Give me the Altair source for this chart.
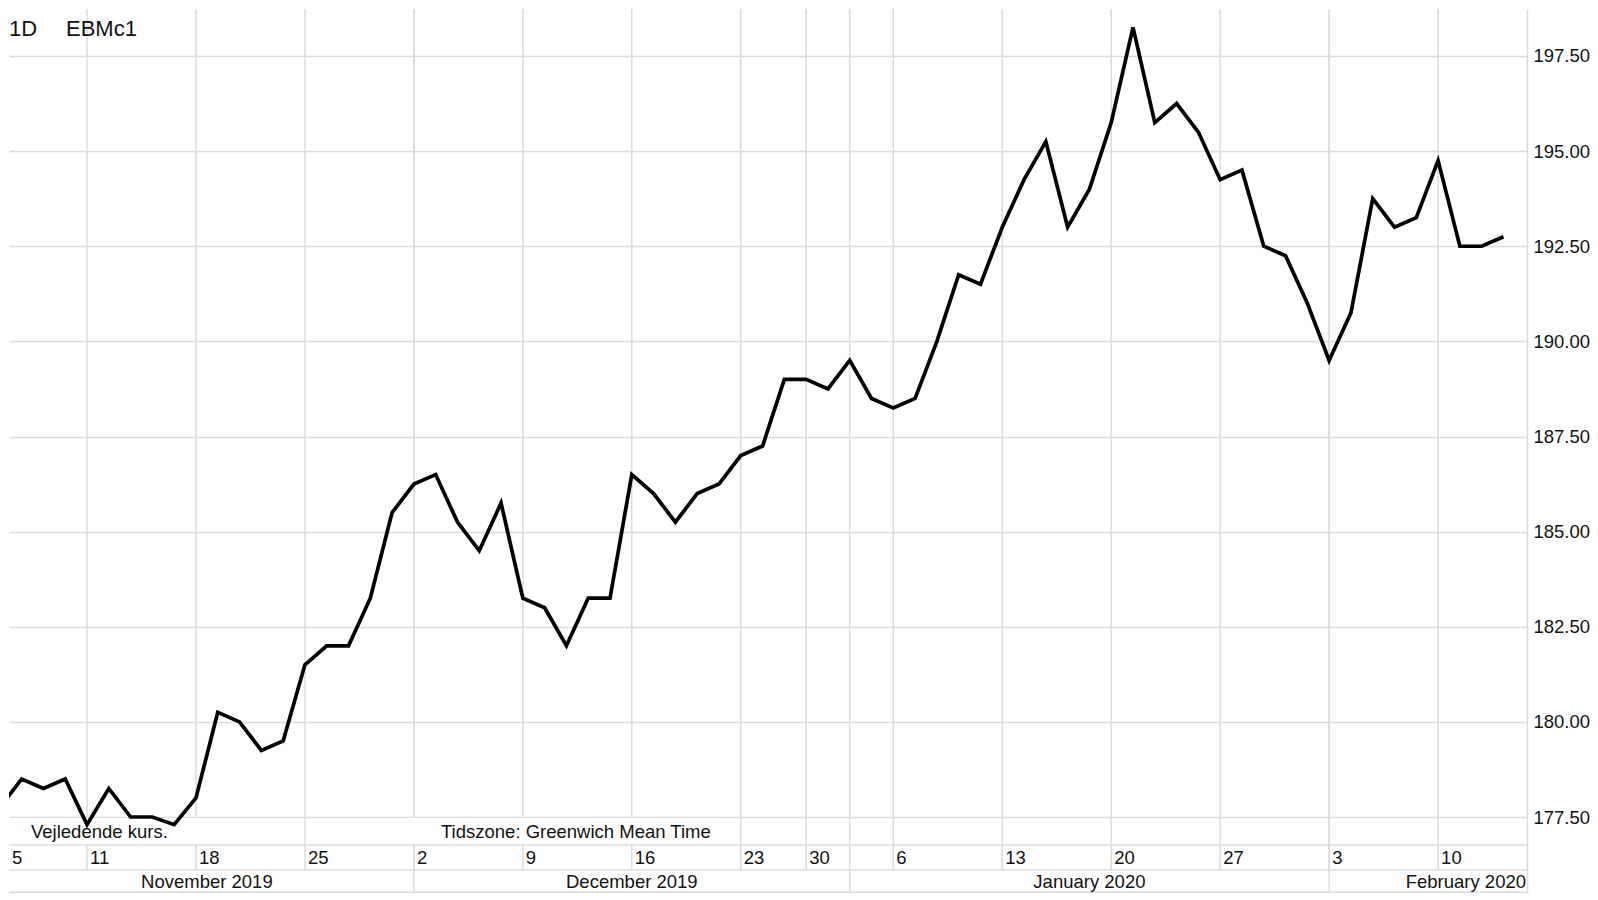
import altair as alt
import pandas as pd

# ---------------- data ----------------
dates = [
    "2019-11-05", "2019-11-06", "2019-11-07", "2019-11-08",
    "2019-11-11", "2019-11-12", "2019-11-13", "2019-11-14", "2019-11-15",
    "2019-11-18", "2019-11-19", "2019-11-20", "2019-11-21", "2019-11-22",
    "2019-11-25", "2019-11-26", "2019-11-27", "2019-11-28", "2019-11-29",
    "2019-12-02", "2019-12-03", "2019-12-04", "2019-12-05", "2019-12-06",
    "2019-12-09", "2019-12-10", "2019-12-11", "2019-12-12", "2019-12-13",
    "2019-12-16", "2019-12-17", "2019-12-18", "2019-12-19", "2019-12-20",
    "2019-12-23", "2019-12-24", "2019-12-27",
    "2019-12-30", "2019-12-31", "2020-01-02", "2020-01-03",
    "2020-01-06", "2020-01-07", "2020-01-08", "2020-01-09", "2020-01-10",
    "2020-01-13", "2020-01-14", "2020-01-15", "2020-01-16", "2020-01-17",
    "2020-01-20", "2020-01-21", "2020-01-22", "2020-01-23", "2020-01-24",
    "2020-01-27", "2020-01-28", "2020-01-29", "2020-01-30", "2020-01-31",
    "2020-02-03", "2020-02-04", "2020-02-05", "2020-02-06", "2020-02-07",
    "2020-02-10", "2020-02-11", "2020-02-12", "2020-02-13",
]
prices = [
    177.75, 178.5, 178.25, 178.5,
    177.3, 178.25, 177.5, 177.5, 177.3,
    178.0, 180.25, 180.0, 179.25, 179.5,
    181.5, 182.0, 182.0, 183.25, 185.5,
    186.25, 186.5, 185.25, 184.5, 185.75,
    183.25, 183.0, 182.0, 183.25, 183.25,
    186.5, 186.0, 185.25, 186.0, 186.25,
    187.0, 187.25, 189.0,
    189.0, 188.75, 189.5, 188.5,
    188.25, 188.5, 190.0, 191.75, 191.5,
    193.0, 194.25, 195.25, 193.0, 194.0,
    195.75, 198.25, 195.75, 196.25, 195.5,
    194.25, 194.5, 192.5, 192.25, 191.0,
    189.5, 190.75, 193.75, 193.0, 193.25,
    194.75, 192.5, 192.5, 192.75,
]
y_ticks = [177.5, 180.0, 182.5, 185.0, 187.5, 190.0, 192.5, 195.0, 197.5]
interval_label = "1D"
symbol_label = "EBMc1"
note_left = "Vejledende kurs."
note_tz = "Tidszone: Greenwich Mean Time"

# ---------------- layout / style ----------------
FONT = "Liberation Sans"
W, H = 1518, 884
GRID = "#dcdcdc"
TXT = "#111111"
FS = 18.5
X_DOMAIN = [0.42, 70.08]
Y_DOMAIN = [175.503, 198.735]
PLOT_BOTTOM = 836
DAYROW_BOTTOM = 861

df = pd.DataFrame({"date": pd.to_datetime(dates), "price": prices})
df["idx"] = range(len(df))
df["day"] = df["date"].dt.day.astype(str)

monday = df["date"] - pd.to_timedelta(df["date"].dt.weekday, unit="D")
weeks = df.groupby(monday.values).first().reset_index(drop=True)
weeks["lx"] = weeks["idx"].clip(lower=X_DOMAIN[0])

mkey = df["date"].dt.to_period("M")
months = df.groupby(mkey.values).first().reset_index(drop=True)
months["label"] = months["date"].dt.strftime("%B %Y")
months["end"] = list(months["idx"][1:]) + [X_DOMAIN[1]]
months["mid"] = (months["idx"] + months["end"]) / 2

xs = alt.Scale(domain=X_DOMAIN, nice=False, zero=False)
ys = alt.Scale(domain=Y_DOMAIN, nice=False, zero=False)

one = pd.DataFrame({"k": [0]})

week_rules = alt.Chart(weeks[weeks["idx"] > 0]).mark_rule(color=GRID, strokeWidth=1.5).encode(
    x=alt.X("idx:Q", scale=xs, axis=None), y=alt.value(0), y2=alt.value(DAYROW_BOTTOM)
)
month_rules = alt.Chart(months[months["idx"] > 0]).mark_rule(color=GRID, strokeWidth=1.5).encode(
    x=alt.X("idx:Q", scale=xs, axis=None), y=alt.value(0), y2=alt.value(H)
)
hlines = [
    alt.Chart(one).mark_rule(color=GRID, strokeWidth=1.5).encode(
        x=alt.value(0), x2=alt.value(W), y=alt.value(yy)
    )
    for yy in (PLOT_BOTTOM, DAYROW_BOTTOM, H - 0.75)
]
box_left = alt.Chart(one).mark_rect(color="white").encode(
    x=alt.value(0), x2=alt.value(190), y=alt.value(809), y2=alt.value(835)
)
box_tz = alt.Chart(one).mark_rect(color="white").encode(
    x=alt.value(397), x2=alt.value(712), y=alt.value(809), y2=alt.value(835)
)
note1 = alt.Chart(one).mark_text(align="left", baseline="middle", font=FONT, fontSize=FS, color=TXT).encode(
    x=alt.value(22), y=alt.value(823), text=alt.value(note_left)
)
note2 = alt.Chart(one).mark_text(align="left", baseline="middle", font=FONT, fontSize=FS, color=TXT).encode(
    x=alt.value(432), y=alt.value(823), text=alt.value(note_tz)
)

line = alt.Chart(df).mark_line(color="black", strokeWidth=3.7, clip=True, strokeJoin="miter").encode(
    x=alt.X("idx:Q", scale=xs, axis=None),
    y=alt.Y(
        "price:Q",
        scale=ys,
        axis=alt.Axis(
            orient="right", values=y_ticks, format=".2f", grid=True, gridColor=GRID, gridWidth=1.5,
            domain=True, domainColor=GRID, domainWidth=1.5, ticks=False, labelPadding=6,
            labelFont=FONT, labelFontSize=FS, labelColor=TXT, title=None,
        ),
    ),
)

day_labels = alt.Chart(weeks).mark_text(
    align="left", baseline="middle", dx=3, font=FONT, fontSize=FS, color=TXT
).encode(x=alt.X("lx:Q", scale=xs, axis=None), y=alt.value(848.5), text="day:N")

month_labels = alt.Chart(months.iloc[:-1]).mark_text(
    align="center", baseline="middle", font=FONT, fontSize=FS, color=TXT
).encode(x=alt.X("mid:Q", scale=xs, axis=None), y=alt.value(872.5), text="label:N")

last_month = alt.Chart(months.iloc[-1:]).mark_text(
    align="right", baseline="middle", dx=-1, font=FONT, fontSize=FS, color=TXT
).encode(x=alt.X("end:Q", scale=xs, axis=None), y=alt.value(872.5), text="label:N")

t1 = alt.Chart(one).mark_text(align="left", baseline="middle", font=FONT, fontSize=22, color=TXT).encode(
    x=alt.value(0), y=alt.value(20), text=alt.value(interval_label)
)
t2 = alt.Chart(one).mark_text(align="left", baseline="middle", font=FONT, fontSize=22, color=TXT).encode(
    x=alt.value(57), y=alt.value(20), text=alt.value(symbol_label)
)

chart = alt.layer(
    week_rules, month_rules, *hlines, box_left, box_tz, note1, note2,
    line, day_labels, month_labels, last_month, t1, t2
).properties(width=W, height=H, padding=0, background="white").configure_view(stroke=None)

chart.save("out.html", embed_options={"renderer": "svg", "actions": False})
